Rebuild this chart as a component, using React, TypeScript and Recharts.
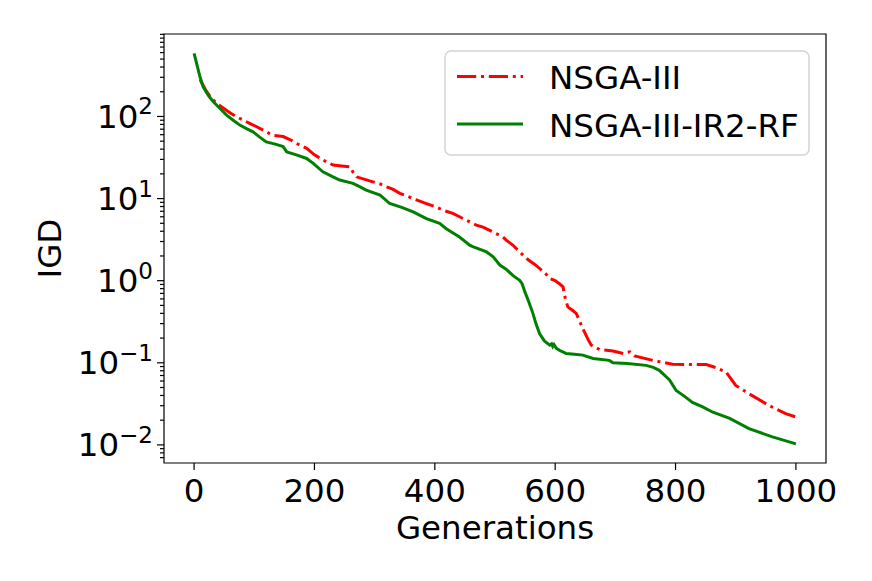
import { Legend, Line, LineChart, ReferenceArea, XAxis, YAxis } from "recharts";

const nsgaGens = [
  10, 15, 20, 29, 40, 49, 60, 71, 82, 93, 104, 115, 125, 131, 148, 160, 170, 187, 198, 209, 220, 231, 245,
  259, 264, 270, 285, 297, 310, 320, 330, 342, 353, 364, 375, 386, 400, 414, 430, 441, 452, 469, 480, 497,
  513, 519, 530, 541, 555, 565, 574, 585, 591, 600, 607, 613, 617, 621, 628, 635, 646, 655, 660, 674, 696,
  713, 724, 732, 762, 795, 851, 867, 884, 900, 922, 956, 983, 1000,
];
const nsgaIgd = [
  280, 240, 205, 166, 140, 126, 110, 99, 90, 82, 75, 68, 62, 59, 57, 52, 47, 41, 35, 31, 28, 25.6, 25, 24.4,
  21, 18.4, 17, 16, 15, 13.9, 13, 11.6, 10.8, 10.0, 9.3, 8.7, 8.0, 7.2, 6.6, 6.0, 5.46, 4.75, 4.5, 3.9, 3.42,
  3.1, 2.7, 2.24, 1.8, 1.6, 1.41, 1.2, 1.06, 1.0, 0.92, 0.84, 0.6, 0.48, 0.44, 0.4, 0.26, 0.19, 0.164, 0.145,
  0.139, 0.13, 0.136, 0.121, 0.107, 0.096, 0.095, 0.0875, 0.077, 0.053, 0.042, 0.03, 0.024, 0.0219,
];

const rfGens = [
  0, 5, 10, 15, 25, 32, 43, 54, 65, 76, 87, 98, 109, 120, 135, 148, 154, 170, 187, 198, 214, 230, 242, 264,
  275, 286, 309, 325, 345, 364, 386, 408, 419, 441, 458, 463, 486, 497, 508, 519, 530, 541, 545, 550, 555,
  563, 568, 574, 582, 591, 594, 596, 598, 602, 607, 618, 632, 646, 663, 690, 696, 720, 751, 763, 773, 790,
  801, 815, 828, 845, 862, 890, 922, 961, 1000,
];
const rfIgd = [
  588, 420, 300, 230, 175, 151, 125, 104, 90, 78.5, 71, 65, 56, 49, 46, 43, 37, 34, 30.8, 26.8, 21.2, 18.5,
  16.8, 15.3, 14, 12.7, 11.0, 8.7, 7.8, 6.9, 5.7, 4.98, 4.3, 3.4, 2.71, 2.6, 2.24, 1.95, 1.55, 1.37, 1.15,
  1.01, 0.92, 0.72, 0.58, 0.4, 0.3, 0.227, 0.185, 0.164, 0.17, 0.158, 0.167, 0.15, 0.142, 0.13, 0.127, 0.124,
  0.113, 0.107, 0.1, 0.098, 0.093, 0.088, 0.081, 0.062, 0.046, 0.039, 0.033, 0.029, 0.025, 0.021, 0.0158,
  0.0125, 0.0103,
];

const xTicks = [0, 200, 400, 600, 800, 1000];
const majorExps = [-2, -1, 0, 1, 2];
const yDomain: [number, number] = [0.00602, 1010];

const nsgaData = nsgaGens.map((gen, i) => ({ gen, igd: nsgaIgd[i] }));
const rfData = rfGens.map((gen, i) => ({ gen, igd: rfIgd[i] }));

// major + minor log ticks inside the domain
const yTicks: number[] = [];
for (let e = -3; e <= 3; e++) {
  for (let m = 1; m <= 9; m++) {
    const v = Number((m * Math.pow(10, e)).toPrecision(3));
    if (v >= yDomain[0] && v <= yDomain[1]) yTicks.push(v);
  }
}

const FONT = "DejaVu Sans";
const FS = 32.5;

function YTick(props: any) {
  const { x, y, payload } = props;
  const v = payload.value;
  const e = Math.round(Math.log10(v));
  const major = Math.abs(v - Math.pow(10, e)) < 1e-9 * Math.pow(10, e) && majorExps.includes(e);
  return (
    <g>
      <line x1={x} x2={x - (major ? 7 : 4)} y1={y} y2={y} stroke="#000" strokeWidth={1.2} />
      {major && (
        <text x={x - 11} y={y + 11.5} textAnchor="end" fontFamily={FONT} fill="#000">
          <tspan fontSize={FS}>10</tspan>
          <tspan fontSize={23} dy={-13.5}>
            {e < 0 ? "\u2212" + Math.abs(e) : String(e)}
          </tspan>
        </text>
      )}
    </g>
  );
}

function LegendBox() {
  return (
    <svg width={366} height={106} style={{ display: "block" }}>
      <rect x={1} y={1} width={364} height={104} rx={6} fill="rgba(255,255,255,0.8)" stroke="#d4d4d4" strokeWidth={1.5} />
      <line x1={13} x2={79} y1={26.5} y2={26.5} stroke="#ff0000" strokeWidth={3} strokeDasharray="19.2 4.8 3 4.8" />
      <line x1={13} x2={79} y1={74} y2={74} stroke="#008000" strokeWidth={3} />
      <text x={105} y={38.5} fontFamily={FONT} fontSize={FS} fill="#000">
        NSGA-III
      </text>
      <text x={105} y={86.5} fontFamily={FONT} fontSize={FS} fill="#000">
        NSGA-III-IR2-RF
      </text>
    </svg>
  );
}

export default function App() {
  return (
    <div style={{ position: "absolute", left: 0, top: 0, background: "#fff" }}>
      <LineChart width={872} height={581} margin={{ top: 34, right: 46, bottom: 78, left: 64 }}>
        <XAxis
          type="number"
          dataKey="gen"
          domain={[-50, 1050]}
          ticks={xTicks}
          allowDataOverflow
          axisLine={false}
          tickSize={7}
          tickMargin={9}
          height={40}
          tickLine={{ stroke: "#000", strokeWidth: 1.2 }}
          tick={{ fontSize: FS, fill: "#000", fontFamily: FONT }}
          label={{
            content: (p: any) => (
              <text x={p.viewBox.x + p.viewBox.width / 2} y={539} textAnchor="middle" fontFamily={FONT} fontSize={FS} fill="#000">
                Generations
              </text>
            ),
          }}
        />
        <YAxis
          type="number"
          scale="log"
          domain={yDomain}
          ticks={yTicks}
          allowDataOverflow
          interval={0}
          axisLine={false}
          tickLine={false}
          tickSize={0}
          tickMargin={0}
          width={100}
          tick={<YTick />}
          label={{
            content: () => (
              <text x={61} y={248.5} transform="rotate(-90, 61, 248.5)" textAnchor="middle" fontFamily={FONT} fontSize={FS} fill="#000">
                IGD
              </text>
            ),
          }}
        />
        <Line
          data={nsgaData}
          dataKey="igd"
          name="NSGA-III"
          type="linear"
          dot={false}
          stroke="#ff0000"
          strokeWidth={3}
          strokeDasharray="19.2 4.8 3 4.8"
          isAnimationActive={false}
        />
        <Line
          data={rfData}
          dataKey="igd"
          name="NSGA-III-IR2-RF"
          type="linear"
          dot={false}
          stroke="#008000"
          strokeWidth={3}
          isAnimationActive={false}
        />
        <ReferenceArea
          x1={-50}
          x2={1050}
          y1={yDomain[0]}
          y2={yDomain[1]}
          fill="none"
          stroke="#000"
          strokeWidth={1.2}
          ifOverflow="visible"
        />
        <Legend
          layout="vertical"
          align="center"
          verticalAlign="middle"
          wrapperStyle={{ left: 444, top: 50, width: 366, height: 106 }}
          content={() => <LegendBox />}
        />
      </LineChart>
    </div>
  );
}
